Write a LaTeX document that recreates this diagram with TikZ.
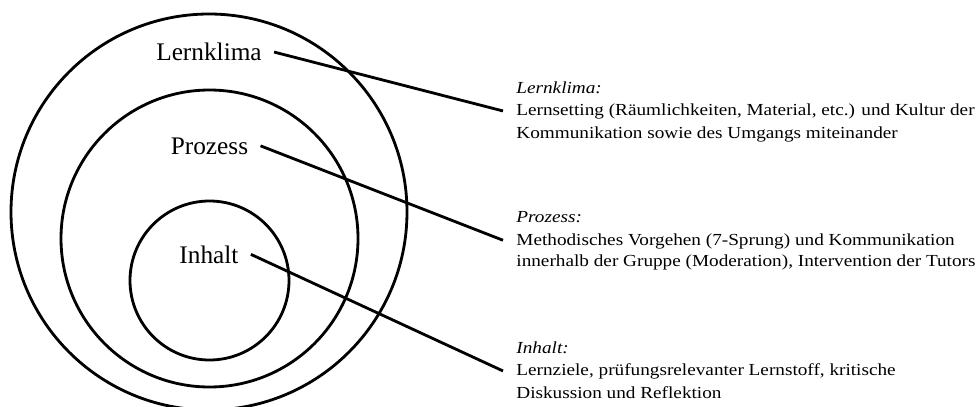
\documentclass[tikz,border=0pt]{standalone}
\usepackage{fontspec}
\setmainfont{Liberation Serif}
\newfontfamily\descfont[FakeStretch=1.14]{Liberation Serif}
\begin{document}
\begin{tikzpicture}[scale=1.0, line width=2pt,
  ring/.style={inner xsep=7.8pt, inner ysep=0pt, anchor=base, font=\fontsize{18}{22}\selectfont},
  desc/.style={inner xsep=0.3cm, inner ysep=0pt, anchor=base west, text height=0.8em, text depth=0.125em, font=\descfont\fontsize{12}{16}\selectfont}]
\useasboundingbox (0,0) rectangle (24.475,10.15);
% Kreise
\draw (5.225,4.85) circle (4.95);
\draw (5.2375,4.1875) circle (3.7125);
\draw (5.2375,3.1375) circle (1.9875);
% Beschriftung der Kreise
\node[ring] (lk) at (5.225,8.6325) {Lernklima};
\node[ring] (pz) at (5.2375,6.3) {Prozess};
\node[ring] (ih) at (5.225,3.575) {Inhalt};
% Erklaerung Lernklima
\node[desc] (lkhead) at (12.575,7.8175) {\textit{Lernklima:}};
\node[desc] (lkone) at (12.575,7.2575) {Lernsetting (Räumlichkeiten, Material, etc.) und Kultur der};
\node[desc] (lktwo) at (12.575,6.6925) {Kommunikation sowie des Umgangs miteinander};
% Erklaerung Prozess
\node[desc] (pzhead) at (12.575,4.5825) {\textit{Prozess:}};
\node[desc] (pzone) at (12.575,4.025) {Methodisches Vorgehen (7-Sprung) und Kommunikation};
\node[desc] (pztwo) at (12.575,3.4825) {innerhalb der Gruppe (Moderation), Intervention der Tutors};
% Erklaerung Inhalt
\node[desc] (ihhead) at (12.575,1.3175) {\textit{Inhalt:}};
\node[desc] (ihone) at (12.575,0.7575) {Lernziele, prüfungsrelevanter Lernstoff, kritische};
\node[desc] (ihtwo) at (12.575,0.1925) {Diskussion und Reflektion};
% Verbindungslinien
\draw (lk.east) -- (lkone.west);
\draw (pz.east) -- (pzone.west);
\draw (ih.east) -- (ihone.west);
\end{tikzpicture}
\end{document}
